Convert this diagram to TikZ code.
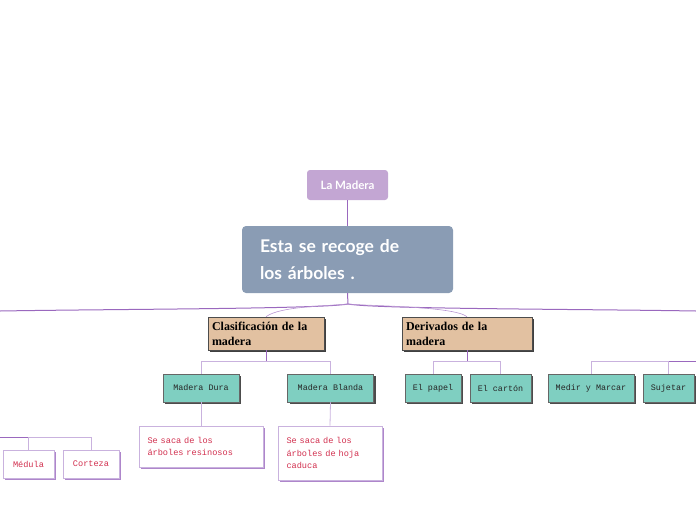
\documentclass[tikz,border=0pt]{standalone}
\usepackage{fontspec}
\setmainfont{Lato}
\newfontfamily\pixfont{Liberation Mono}
\newfontfamily\slabfont{Liberation Serif}
\definecolor{mapLilac}{HTML}{C3A6D3}
\definecolor{mapSlate}{HTML}{8A9CB4}
\definecolor{mapTan}{HTML}{E2C1A1}
\definecolor{mapTeal}{HTML}{7FCFC1}
\definecolor{mapPurple}{HTML}{9A68BE}
\definecolor{mapPale}{HTML}{C9B2DE}
\definecolor{mapRed}{HTML}{D2304F}
\usetikzlibrary{shadows}

\begin{document}
\begin{tikzpicture}[x=1pt,y=-1pt,
  root/.style={fill=mapLilac,text=white,rounded corners=3pt,font=\bfseries\fontsize{11.5}{13}\selectfont,minimum width=81pt,minimum height=30pt},
  topic/.style={fill=mapSlate,text=white,rounded corners=4pt,font=\bfseries\fontsize{17.5}{27}\selectfont,minimum width=211pt,minimum height=67pt,text width=175pt,align=left},
  branch/.style={fill=mapTan,draw=black!70,line width=.6pt,drop shadow={shadow xshift=2pt,shadow yshift=-2pt,fill=black!75,opacity=1},font=\slabfont\bfseries\fontsize{12}{15}\selectfont,minimum height=33pt,inner xsep=4pt,align=left,anchor=center},
  leaf/.style={fill=mapTeal,draw=black!60,line width=.5pt,drop shadow={shadow xshift=2pt,shadow yshift=-2pt,fill=black!70,opacity=1},font=\pixfont\fontsize{8.4}{10}\selectfont,text=black!85,minimum height=28pt},
  note/.style={fill=white,draw=mapPale,line width=.7pt,drop shadow={shadow xshift=2pt,shadow yshift=-2pt,fill=mapPurple!80,opacity=1},font=\pixfont\fontsize{8.6}{12.5}\selectfont,text=mapRed,align=left,inner xsep=8pt},
  trunk/.style={mapPurple,line width=1pt},
  twig/.style={mapPale,line width=.8pt}]
  \useasboundingbox (0,0) rectangle (696,520);
  % root and topic
  \node[root] (lamadera) at (347.5,185) {La Madera};
  \node[topic] (topic) at (347.5,259.5) {Esta se recoge de\\los árboles .};
  \draw[trunk] (lamadera.south) -- (topic.north);
  \coordinate (hub) at (348,304);
  \coordinate (offLeft) at (0,311);
  \coordinate (offRight) at (696,311);
  % main branches
  \node[branch,minimum width=116pt,text width=108pt] (clasif) at (266,333.5) {Clasificación de la\\madera};
  \node[branch,minimum width=130pt,text width=122pt] (deriv) at (467,333.5) {Derivados de la\\madera};
  \draw[trunk] (topic.south) -- (hub);
  \draw[trunk] (hub) .. controls (320,309) and (120,309) .. (offLeft);
  \draw[trunk] (hub) .. controls (376,309) and (576,309) .. (offRight);
  \draw[mapPurple!70,line width=.6pt] (hub) .. controls (330,306) and (280,306) .. (clasif.north);
  \draw[mapPurple!70,line width=.6pt] (hub) .. controls (366,306) and (454,306) .. (deriv.north);
  % leaves
  \node[leaf,minimum width=76pt] (dura) at (201,388) {Madera Dura};
  \node[leaf,minimum width=86pt] (blanda) at (330.5,388) {Madera Blanda};
  \node[leaf,minimum width=56pt] (papel) at (433,388) {El papel};
  \node[leaf,minimum width=61pt] (carton) at (500.5,388) {El cartón};
  \node[leaf,minimum width=86pt] (medir) at (591,388) {Medir y Marcar};
  \node[leaf,minimum width=51pt] (sujetar) at (668.5,388) {Sujetar};
  \draw[trunk,line width=.8pt] (clasif.south) -- ++(0,11) coordinate (clasifBus);
  \draw[twig] (clasifBus) -| (dura.north);
  \draw[twig] (clasifBus) -| (blanda.north);
  \draw[trunk,line width=.8pt] (deriv.south) -- ++(0,11) coordinate (derivBus);
  \draw[twig] (derivBus) -| (papel.north);
  \draw[twig] (derivBus) -| (carton.north);
  \coordinate (toolBus) at (696,361);
  \draw[trunk,line width=.8pt] (toolBus) -- (sujetar.north |- toolBus);
  \draw[twig] (sujetar.north |- toolBus) -- (sujetar.north);
  \draw[twig] (sujetar.north |- toolBus) -| (medir.north);
  % notes
  \node[note,minimum width=124pt,minimum height=41pt,text width=107pt] (resin) at (201,446.5) {Se saca de los\\árboles resinosos};
  \node[note,minimum width=104pt,minimum height=54pt,text width=87pt] (caduca) at (330,453) {Se saca de los\\árboles de hoja\\caduca};
  \draw[twig] (dura.south) -- (resin.north);
  \draw[twig] (blanda.south) -- (caduca.north);
  % parts of the trunk
  \node[note,minimum width=51pt,minimum height=28pt,inner xsep=2pt] (medula) at (28.5,464) {Médula};
  \node[note,minimum width=56pt,minimum height=28pt,inner xsep=2pt] (corteza) at (91,464) {Corteza};
  \coordinate (partBus) at (0,437);
  \draw[trunk,line width=.8pt] (partBus) -- (medula.north |- partBus);
  \draw[twig] (medula.north |- partBus) -- (medula.north);
  \draw[twig] (medula.north |- partBus) -| (corteza.north);
\end{tikzpicture}
\end{document}
